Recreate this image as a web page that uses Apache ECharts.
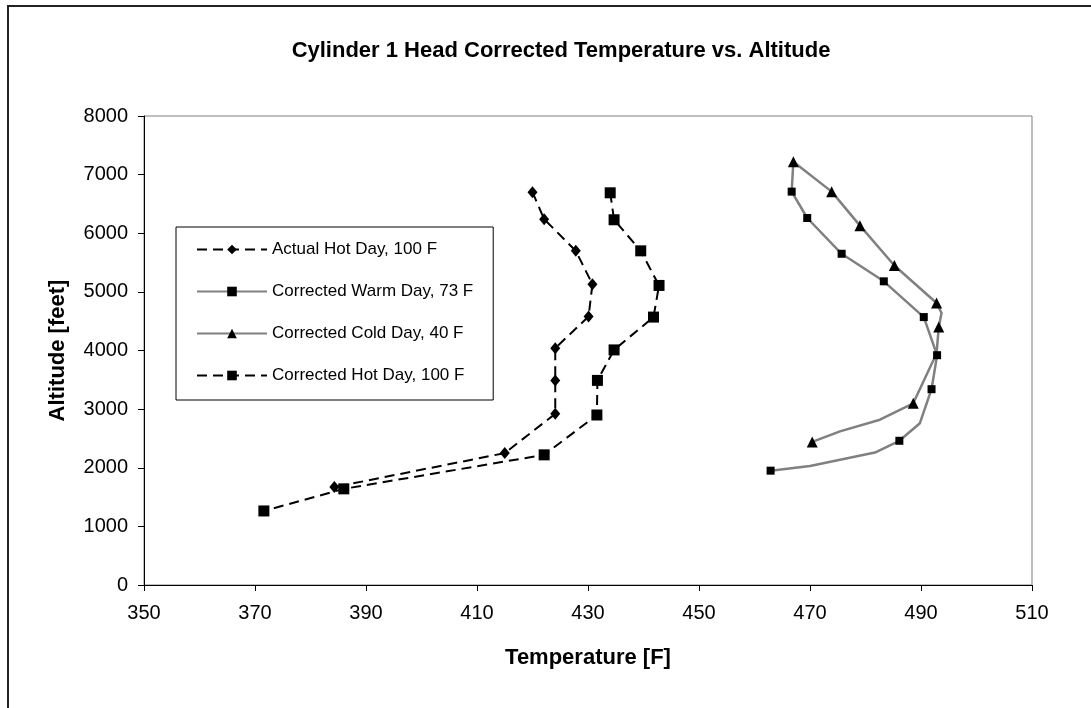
<!DOCTYPE html>
<html>
<head>
<meta charset="utf-8">
<script src="https://cdn.jsdelivr.net/npm/echarts@6/dist/echarts.min.js"></script>
<style>
  html, body { margin: 0; padding: 0; background: #fff; }
  #chart { width: 1091px; height: 708px; }
</style>
</head>
<body>
<div id="chart"></div>
<script>
// series names, in legend order
const seriesNames = ['Actual Hot Day, 100 F', 'Corrected Warm Day, 73 F', 'Corrected Cold Day, 40 F', 'Corrected Hot Day, 100 F']

// Actual Hot Day (diamonds)
const actualHotTemp = [420.0, 422.1, 427.8, 430.8, 430.1, 424.1, 424.1, 424.1, 415.0, 384.3]
const actualHotAlt = [6700, 6240, 5700, 5130, 4580, 4040, 3490, 2920, 2250, 1670]

// Corrected Warm Day (small squares); path points, markers only at measured points
const warmTemp = [467.0, 466.7, 469.5, 475.7, 483.3, 490.5, 492.9, 491.9, 489.8, 486.1, 481.7, 470.0, 462.9]
const warmAlt = [7220, 6710, 6260, 5650, 5180, 4570, 3920, 3340, 2760, 2460, 2260, 2030, 1950]
const warmMarked = [1, 2, 3, 4, 5, 6, 7, 9, 12]

// Corrected Cold Day (triangles)
const coldTemp = [467.0, 473.9, 479.0, 485.2, 492.8, 493.7, 493.2, 492.8, 488.6, 482.6, 475.4, 470.4]
const coldAlt = [7220, 6710, 6130, 5450, 4810, 4640, 4400, 3950, 3100, 2820, 2620, 2440]
const coldMarked = [0, 1, 2, 3, 4, 6, 8, 11]

// Corrected Hot Day (large squares)
const corrHotTemp = [434.0, 434.7, 439.5, 442.8, 441.8, 434.7, 431.7, 431.6, 422.1, 386.0, 371.6]
const corrHotAlt = [6690, 6230, 5700, 5110, 4570, 4010, 3490, 2900, 2220, 1640, 1263]

const xTicks = { min: 350, max: 510, step: 20 }
const yTicks = { min: 0, max: 8000, step: 1000 }

function pairs(xs, ys, marked) {
  return xs.map(function (x, i) {
    if (marked && marked.indexOf(i) < 0) {
      return { value: [x, ys[i]], symbol: 'none' }
    }
    return [x, ys[i]]
  })
}

const chart = echarts.init(document.getElementById('chart'))
const font = 'Liberation Sans, Arial, sans-serif'
const dashed = [10, 6]

const option = {
  animation: false,
  backgroundColor: '#fff',
  textStyle: { fontFamily: font },
  title: {
    text: 'Cylinder 1 Head Corrected Temperature vs. Altitude',
    left: 556,
    top: 35,
    textAlign: 'center',
    textStyle: { fontSize: 22, fontWeight: 'bold', color: '#000', fontFamily: font }
  },
  graphic: [
    {
      type: 'rect',
      shape: { x: 8, y: 6, width: 1100, height: 720 },
      style: { fill: 'none', stroke: '#222', lineWidth: 2 },
      silent: true
    }
  ],
  legend: {
    orient: 'vertical',
    left: 176,
    top: 227,
    padding: [14, 20, 16, 20],
    itemGap: 25,
    itemWidth: 70,
    itemHeight: 12,
    borderColor: '#000',
    borderWidth: 1,
    backgroundColor: '#fff',
    textStyle: { fontSize: 17, color: '#000', fontFamily: font },
    data: seriesNames
  },
  grid: {
    left: 144,
    top: 116,
    right: 59,
    bottom: 123,
    show: true,
    borderColor: '#808080',
    borderWidth: 1
  },
  xAxis: {
    type: 'value',
    min: xTicks.min,
    max: xTicks.max,
    interval: xTicks.step,
    name: 'Temperature [F]',
    nameLocation: 'middle',
    nameGap: 62,
    nameTextStyle: { fontSize: 22, fontWeight: 'bold', color: '#000', fontFamily: font },
    axisLine: { lineStyle: { color: '#000', width: 1 } },
    axisTick: { show: true, length: 6, lineStyle: { color: '#000' } },
    axisLabel: { fontSize: 20, color: '#000', margin: 18, fontFamily: font },
    splitLine: { show: false }
  },
  yAxis: {
    type: 'value',
    min: yTicks.min,
    max: yTicks.max,
    interval: yTicks.step,
    name: 'Altitude [feet]',
    nameLocation: 'middle',
    nameGap: 75,
    nameRotate: 90,
    nameTextStyle: { fontSize: 22, fontWeight: 'bold', color: '#000', fontFamily: font },
    axisLine: { show: true, lineStyle: { color: '#000', width: 1 } },
    axisTick: { show: true, length: 6, lineStyle: { color: '#000' } },
    axisLabel: {
      fontSize: 20,
      color: '#000',
      margin: 16,
      fontFamily: font,
      formatter: function (v) { return String(v) }
    },
    splitLine: { show: false }
  },
  series: [
    {
      name: seriesNames[0],
      type: 'line',
      data: pairs(actualHotTemp, actualHotAlt),
      symbol: 'diamond',
      symbolSize: [10, 12],
      showAllSymbol: true,
      itemStyle: { color: '#000' },
      lineStyle: { color: '#000', width: 2, type: dashed },
      z: 4
    },
    {
      name: seriesNames[1],
      type: 'line',
      data: pairs(warmTemp, warmAlt, warmMarked),
      symbol: 'rect',
      symbolSize: 8,
      showAllSymbol: true,
      itemStyle: { color: '#000' },
      lineStyle: { color: '#808080', width: 2.5 },
      z: 3
    },
    {
      name: seriesNames[2],
      type: 'line',
      data: pairs(coldTemp, coldAlt, coldMarked),
      symbol: 'triangle',
      symbolSize: 11,
      showAllSymbol: true,
      itemStyle: { color: '#000' },
      lineStyle: { color: '#808080', width: 2.5 },
      z: 3
    },
    {
      name: seriesNames[3],
      type: 'line',
      data: pairs(corrHotTemp, corrHotAlt),
      symbol: 'rect',
      symbolSize: 11,
      showAllSymbol: true,
      itemStyle: { color: '#000' },
      lineStyle: { color: '#000', width: 2, type: dashed },
      z: 4
    }
  ]
}

option && chart.setOption(option)
</script>
</body>
</html>
